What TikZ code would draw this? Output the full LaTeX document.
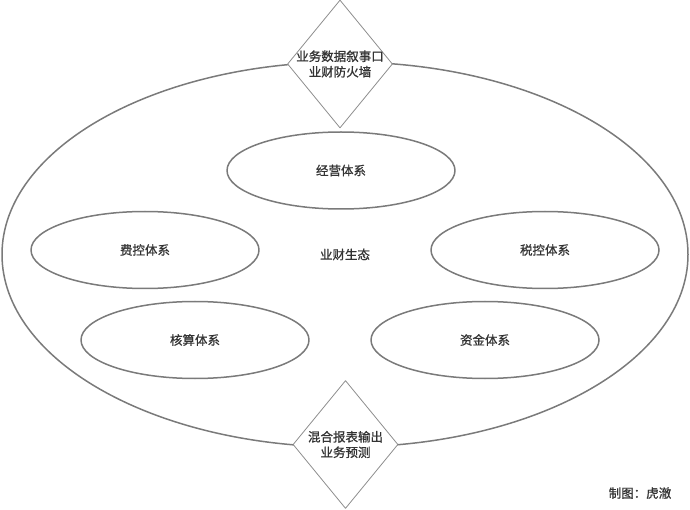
\documentclass[tikz,border=0pt]{standalone}
\usepackage{fontspec}
\setmainfont{Noto Sans CJK SC}[FakeBold=0.9]
\usetikzlibrary{shapes.geometric}
\definecolor{rim}{HTML}{7A7A7A}
\definecolor{ink}{HTML}{333333}
\begin{document}
\begin{tikzpicture}[x=1pt,y=-1pt,line join=round,line cap=round,
  every node/.style={text=ink,font=\fontsize{12.5}{15.5}\selectfont},
  sys/.style={ellipse,draw=rim,line width=1.5pt,minimum width=228pt,minimum height=77pt,inner sep=0pt},
  gate/.style={diamond,draw=rim!85,line width=.8pt,fill=white,minimum width=105pt,minimum height=128pt,inner sep=0pt},
  gatetext/.style={align=center,inner sep=0pt}]
\useasboundingbox (0,0) rectangle (690,510);
\node[ellipse,draw=rim,line width=1.5pt,minimum width=686pt,minimum height=385pt,inner sep=0pt] (eco) at (345,254.5) {业财生态};
\node[sys] (jy) at (341,170.5) {经营体系};
\node[sys] (fk) at (145,250) {费控体系};
\node[sys] (sk) at (545,250) {税控体系};
\node[sys] (hs) at (195,340) {核算体系};
\node[sys] (zj) at (485,340) {资金体系};
\node[gate] (up) at (340,64) {};
\node[gatetext] at (up) {业务数据叙事口\\业财防火墙};
\node[gate] (dn) at (345.5,444.5) {};
\node[gatetext] at (dn) {混合报表输出\\业务预测};
\node (sig) at (640,493) {制图：虎澈};
\end{tikzpicture}
\end{document}
